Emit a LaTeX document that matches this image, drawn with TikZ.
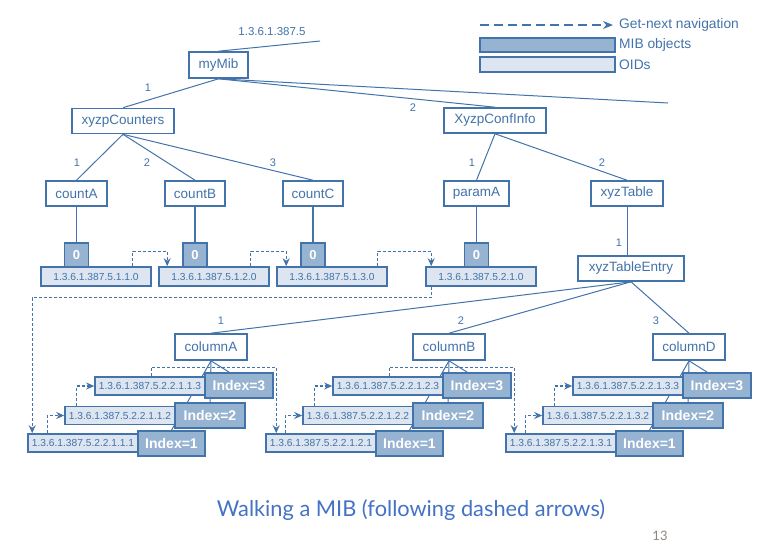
\documentclass[tikz,border=0pt]{standalone}
\usepackage{fontspec}
\setmainfont{Liberation Sans}
\newfontfamily\titlefont{Lato}
\usetikzlibrary{arrows.meta,backgrounds}
\definecolor{mibblue}{RGB}{66,115,170}
\definecolor{mibdark}{RGB}{150,179,209}
\definecolor{miblight}{RGB}{220,229,240}
\definecolor{titleblue}{RGB}{68,114,196}
\definecolor{pagegray}{RGB}{140,135,120}
\begin{document}
\begin{tikzpicture}[x=1pt,y=-1pt,
  tbox/.style={draw=mibblue, line width=1.6pt, fill=white, text=mibblue,
    font=\fontsize{13.5}{15}\selectfont, inner sep=0pt, minimum height=25pt},
  zbox/.style={draw=mibblue, line width=1.6pt, fill=mibdark, text=white,
    font=\bfseries\fontsize{13}{15}\selectfont, inner sep=0pt, minimum width=24pt, minimum height=24pt},
  obox/.style={draw=mibblue, line width=1.6pt, fill=miblight, text=mibblue,
    font=\fontsize{10.2}{12}\selectfont, inner sep=0pt, minimum width=110pt, minimum height=19pt},
  ebox/.style={obox, minimum height=18pt},
  ibox/.style={draw=mibblue, line width=1.6pt, fill=mibdark, text=white,
    font=\bfseries\fontsize{14}{16}\selectfont, inner sep=0pt, minimum height=25pt},
  legbox/.style={draw=mibblue, line width=1.6pt, inner sep=0pt, minimum width=135pt},
  conn/.style={draw=mibblue, line width=1pt},
  vconn/.style={draw=mibblue, line width=1.6pt},
  nav/.style={draw=mibblue, line width=1.2pt, dash pattern=on 3pt off 2pt,
    -{Stealth[length=8pt,width=7pt]}},
  legnav/.style={draw=mibblue, line width=1.8pt, dash pattern=on 9pt off 5pt,
    -{Stealth[length=10pt,width=8pt]}},
  lbl/.style={text=mibblue, font=\fontsize{11}{13}\selectfont, inner sep=0pt},
  legtxt/.style={text=mibblue, font=\fontsize{13.8}{15}\selectfont, inner sep=0pt, anchor=west}
]
\useasboundingbox (0,0) rectangle (759,555);

% legend
\coordinate (lg1) at (480,25);
\coordinate (lg2) at (613,25);
\draw[legnav] (lg1) -- (lg2);
\node[legtxt] (lgt1) at (619,25) {Get-next navigation};
\node[legbox, fill=mibdark, minimum height=14pt] (lgm) at (547.5,45) {};
\node[legtxt] (lgt2) at (619,45) {MIB objects};
\node[legbox, fill=miblight, minimum height=15pt] (lgo) at (547.5,64.5) {};
\node[legtxt] (lgt3) at (619,64.5) {OIDs};

% top tree
\node[lbl, font=\fontsize{11.5}{13}\selectfont] (rootlbl) at (272,32) {1.3.6.1.387.5};
\coordinate (rootend) at (320,41);
\coordinate (mibmore) at (668,103);
\node[tbox, minimum width=59pt, minimum height=26pt] (mymib) at (218.5,65) {myMib};
\node[tbox, minimum width=102pt] (xc) at (123,121) {xyzpCounters};
\node[tbox, minimum width=102pt] (xi) at (495,120.5) {XyzpConfInfo};
\node[lbl] (l1) at (148,88) {1};
\node[lbl] (l2) at (413,108) {2};

\node[tbox, minimum width=61pt] (cA) at (76.5,193.5) {countA};
\node[tbox, minimum width=60pt] (cB) at (195,193.5) {countB};
\node[tbox, minimum width=60pt] (cC) at (313,193.5) {countC};
\node[tbox, minimum width=65pt] (pA) at (476.5,193.5) {paramA};
\node[tbox, minimum width=72pt] (xt) at (627,193.5) {xyzTable};
\node[lbl] (lc1) at (77,163) {1};
\node[lbl] (lc2) at (147,163) {2};
\node[lbl] (lc3) at (273,163) {3};
\node[lbl] (lp1) at (472,163) {1};
\node[lbl] (lp2) at (602,163) {2};

\node[zbox] (zA) at (76.5,255) {0};
\node[zbox] (zB) at (195,255) {0};
\node[zbox] (zC) at (313,255) {0};
\node[zbox] (zP) at (476.5,255) {0};
\node[obox] (oA) at (96,276.5) {1.3.6.1.387.5.1.1.0};
\node[obox] (oB) at (214,276.5) {1.3.6.1.387.5.1.2.0};
\node[obox] (oC) at (332,276.5) {1.3.6.1.387.5.1.3.0};
\node[obox] (oP) at (481,276.5) {1.3.6.1.387.5.2.1.0};

\node[tbox, minimum width=106pt] (xe) at (631,268.5) {xyzTableEntry};
\node[lbl] (lt1) at (619,243) {1};

% columns
\foreach \c/\cx/\num/\nm in {A/211/1/columnA, B/449/2/columnB, D/689/3/columnD}{
  \node[tbox, minimum width=72pt, minimum height=26pt] (col\c) at (\cx,347) {\nm};
  \node[ebox] (\c3) at (\cx-61,386) {1.3.6.1.387.5.2.2.1.\num.3};
  \node[ibox, minimum width=68pt] (\c3i) at (\cx+28,385.5) {Index=3};
  \node[ebox] (\c2) at (\cx-91,415.5) {1.3.6.1.387.5.2.2.1.\num.2};
  \node[ibox, minimum width=70pt] (\c2i) at (\cx-1,415.5) {Index=2};
  \node[ebox] (\c1) at (\cx-128,443) {1.3.6.1.387.5.2.2.1.\num.1};
  \node[ibox, minimum width=67pt] (\c1i) at (\cx-39.5,443.5) {Index=1};
}
\node[lbl] (lk1) at (221,321) {1};
\node[lbl] (lk2) at (461,321) {2};
\node[lbl] (lk3) at (656,321) {3};

% solid connectors (behind boxes)
\begin{scope}[on background layer]
  \draw[conn] (mymib.north) -- (rootend);
  \draw[conn] (mymib.south) -- (xc.north);
  \draw[conn] (mymib.south) -- (xi.north);
  \draw[conn] (mymib.south) -- (mibmore);
  \draw[conn] (xc.south) -- (cA.north);
  \draw[conn] (xc.south) -- (cB.north);
  \draw[conn] (xc.south) -- (cC.north);
  \draw[conn] (xi.south) -- (pA.north);
  \draw[conn] (xi.south) -- (xt.north);
  \draw[vconn] (cA.south) -- (zA.north);
  \draw[vconn] (cB.south) -- (zB.north);
  \draw[vconn] (cC.south) -- (zC.north);
  \draw[vconn] (pA.south) -- (zP.north);
  \draw[conn] (xt.south) -- (xt.south |- xe.north);
  \draw[conn] (xe.south) -- (colA.north);
  \draw[conn] (xe.south) -- (colB.north);
  \draw[conn] (xe.south) -- (colD.north);
  \foreach \c in {A,B,D}{
    \draw[conn] (col\c.south) -- ([xshift=25pt]\c3i.north west);
    \draw[conn] (col\c.south) -- (\c2i.north);
    \draw[conn] (col\c.south) -- (\c1i.north);
  }
\end{scope}

% get-next navigation
\draw[nav] ([xshift=-19pt]oA.north east) -- ++(0,-15) -| ([xshift=9pt]oB.north west);
\draw[nav] ([xshift=-19pt]oB.north east) -- ++(0,-15) -| ([xshift=10pt]oC.north west);
\draw[nav] ([xshift=-10pt]oC.north east) -- ++(0,-15) -| ([xshift=6pt]oP.north west);
\draw[nav] ([xshift=6pt]oP.south west) -- ++(0,11) -| ([xshift=5pt]A1.north west);
\foreach \c in {A,B,D}{
  \draw[nav] ([xshift=20pt]\c1.north west) |- (\c2.west);
  \draw[nav] ([xshift=12pt]\c2.north west) |- (\c3.west);
}
\draw[nav] ([xshift=57pt]A3.north west) -- ++(0,-9) -| ([xshift=11pt]B1.north west);
\draw[nav] ([xshift=57pt]B3.north west) -- ++(0,-9) -| ([xshift=9pt]D1.north west);

% caption
\node[text=titleblue, font=\titlefont\fontsize{21.8}{26}\selectfont, anchor=base, inner sep=0pt] (title) at (411,516) {Walking a MIB (following dashed arrows)};
\node[text=pagegray, font=\titlefont\fontsize{13}{15}\selectfont, anchor=base, inner sep=0pt] (pagenum) at (660,540) {13};
\end{tikzpicture}
\end{document}
